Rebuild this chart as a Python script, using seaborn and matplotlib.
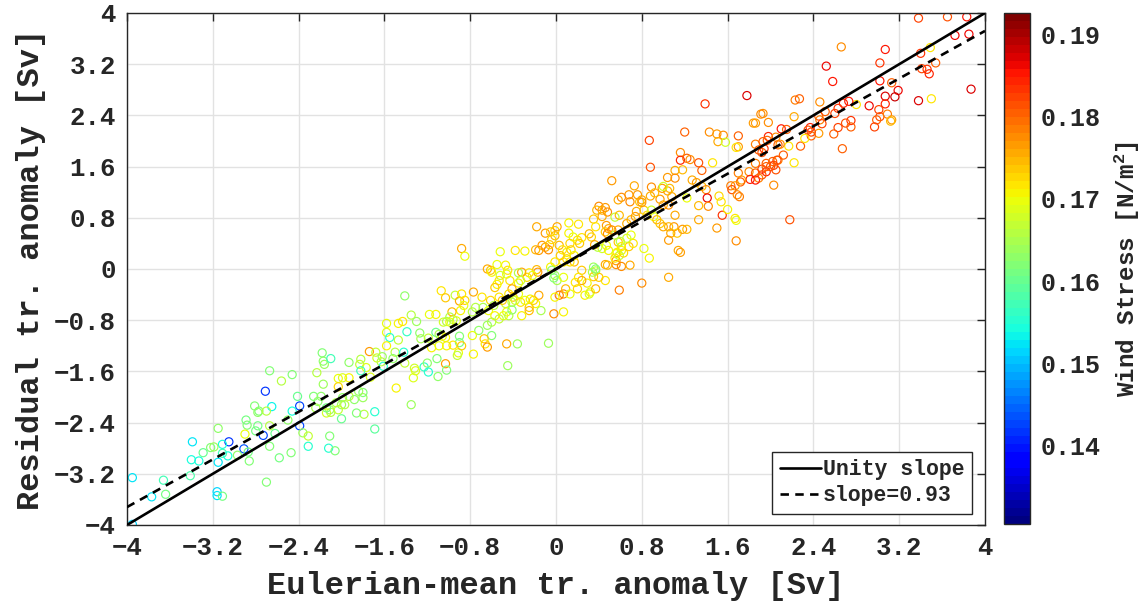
import numpy as np
import pandas as pd
import matplotlib
matplotlib.use("Agg")
import matplotlib.pyplot as plt
import seaborn as sns
from matplotlib.colors import Normalize
from matplotlib.cm import ScalarMappable

# Eulerian-mean transport anomaly [Sv]
euler_tr = [
    -2.67, -2.46, -2.56, -2.71, -2.41, -2.39, -2.81, -2.65, -2.77, -2.78, -2.70, -2.46, -2.39,
    -2.89, -2.88, -2.50, -2.67, -2.78, -2.80, -2.90, -2.73, -2.62, -3.15, -3.39, -3.05, -3.11,
    -3.22, -3.19, -2.91, -3.29, -3.11, -3.06, -2.97, -2.87, -2.67, -2.86, -2.58, -2.47, -3.40,
    -3.33, -3.15, -3.41, -2.70, -3.95, -3.66, -3.77, -3.64, -3.16, -3.16, -3.11, -3.95,
    -1.41, -1.07, -1.03, -0.94, -0.90, -1.35, -1.18, -1.12, -1.30, -1.58, -1.47, -1.43, -1.39,
    -1.58, -1.55, -1.47, -1.27, -1.26, -1.19, -1.12, -1.09, -1.05, -1.02, -0.99, -0.96, -0.93,
    -1.06, -1.03, -0.90, -0.90, -1.16, -1.09, -1.02, -0.96, -0.91, -1.58, -1.50, -1.42, -1.74,
    -1.68, -1.67, -1.62, -1.63, -1.61, -1.52, -1.41, -1.32, -1.31, -1.23, -1.20, -1.19, -1.11,
    -1.03, -1.02, -1.10, -1.33, -1.49, -1.35, -1.82, -1.83, -1.77, -1.93, -1.82, -1.73, -2.03,
    -1.99, -1.93, -2.03, -2.17, -2.23, -2.18, -2.17, -2.16, -2.10, -1.93, -1.88, -1.80, -1.80,
    -1.84, -1.99, -2.00, -2.05, -1.97, -2.11, -2.14, -2.10, -2.00, -2.03, -2.26, -2.19, -2.22,
    -2.24, -2.14, -2.36, -2.31, -2.11, -2.31, -2.12, -2.06, -1.79, -1.69, -1.69, -1.86,
    0.40, 0.43, 0.46, 0.38, 0.48, 0.55, 0.59, 0.35, 0.37, 0.47, 0.49, 0.46, 0.48, 0.12, 0.21,
    -0.18, -0.10, -0.05, -0.01, 0.01, -0.01, -0.04, -0.13, -0.10, -0.07, -0.06, -0.19, -0.16,
    -0.38, -0.29, -0.52, -0.88, -0.85, 0.12, 0.16, 0.13, 0.03, 0.06, 0.10, 0.14, 0.20, 0.22,
    0.24, 0.31, 0.33, 0.36, 0.39, 0.43, 0.47, 0.49, 0.57, 0.56, 0.56, 0.61, 0.58, 0.46, 0.37,
    0.35, 0.59, 0.46, 0.29, 0.32, 0.24, 0.21, 0.24, 0.18, 0.20, 0.17, 0.13, 0.17, 0.07, 0.04,
    0.10, -0.01, -0.05, -0.04, -0.01, 0.01, -0.02, 0.07, 0.07, 0.03, -0.01, -0.02, 0.07, -0.07,
    -0.14, -0.19, -0.16, -0.25, -0.25, -0.32, -0.29, -0.24, -0.21, -0.18, -0.17, -0.25, -0.22,
    -0.27, -0.32, -0.35, -0.43, -0.35, -0.33, -0.46, -0.45, -0.47, -0.55, -0.61, -0.64, -0.60,
    -0.52, -0.53, -0.55, -0.57, -0.41, -0.44, -0.40, -0.35, -0.38, -0.33, -0.41, -0.47, -0.46,
    -0.44, -0.49, -0.41, -0.50, -0.53, -0.77, -0.69, -0.85, -0.88, -0.75, -0.68, -0.78, -0.86,
    -0.89, -0.97, -0.99, -0.61, -0.58, -0.63, -0.57, -0.53, -0.60, -0.72, -0.78, -0.64, -0.60,
    -0.67, -0.66, -0.64, -0.46, -0.36, -0.88, -0.92, -0.77, -0.45, 0.09, 0.13, 0.27, 0.31, 0.37,
    0.40, 0.35, 0.37, 0.34, 0.48, 0.56, 0.59,
    0.87, 1.20, 1.43, 1.50, 1.56, 1.51, 1.58, 1.70, 1.70, 1.68, 1.86, 1.98, 1.86, 1.89, 1.92,
    1.98, 1.97, 2.05, 2.07, 1.16, 1.16, 1.22, 1.25, 1.33, 1.36, 1.46, 0.88, 1.11, 1.18, 1.11,
    1.04, 1.86, 1.80, 1.86, 1.89, 1.92, 1.96, 1.96, 2.00, 2.02, 2.07, 2.05, 1.81, 1.86, 2.03,
    1.70, 1.73, 1.72, 1.67, 1.63, 1.64, 1.69, 1.71, 0.52, 0.73, 0.68, 0.61, 0.58, 0.69, 0.78,
    0.76, 0.80, 0.89, 0.99, 1.04, 1.06, 0.97, 1.00, 1.05, 1.08, 1.00, 1.22, 1.27, 1.31, 1.36,
    1.40, 1.41, 1.52, 1.54, 1.33, 1.42, 1.55, 1.60, 1.67, 1.68, 1.33, 1.50, 1.68, 1.11, 1.10,
    1.05, 1.13, 1.18, 1.22, 1.07, 1.14, 1.16, 1.05, 0.80, 0.87, 0.82, 0.61, 0.69, 0.55, 0.63,
    0.68, 0.72, 0.61, 0.55, 0.60, 0.66, 0.70, 0.52, 0.58, 0.66, 0.70, 0.74, 0.75, 0.82, 0.85,
    0.89, 0.91, 0.94, 0.97, 1.00, 0.43, 0.80, 0.88, 0.92,
    2.66, 3.07, 3.02, 2.52, 2.58, 3.40, 3.49, 3.54, 3.46, 3.41, 3.48, 3.02, 3.13, 3.19, 3.16,
    3.38, 3.50, 3.07, 3.07, 3.01, 3.02, 2.99, 3.09, 3.13, 2.97, 2.92, 2.80, 2.73, 2.68, 2.63,
    2.60, 2.75, 2.75, 2.70, 2.63, 2.59, 2.67, 2.46, 2.51, 2.45, 2.46, 2.48, 2.45, 2.37, 2.38,
    2.38, 2.35, 2.28, 2.32, 2.17, 2.23, 2.27, 2.22, 2.10, 2.15, 1.93, 1.93, 1.94, 2.09, 2.12,
    2.06, 2.03, 1.96, 1.92, 2.22,
    3.38, 3.65, 3.83, 3.72, 3.85, 3.87, 3.12, 1.39, 1.78, 1.91, 1.84, 2.18, 1.05,
]

# Residual transport anomaly [Sv]
resid_tr = [
    -1.59, -1.65, -1.75, -1.91, -1.99, -2.14, -2.14, -2.15, -2.22, -2.24, -2.22, -2.22, -2.45,
    -2.36, -2.44, -2.36, -2.45, -2.45, -2.53, -2.58, -2.60, -2.57, -2.49, -2.70, -2.70, -2.74,
    -2.79, -2.78, -2.81, -2.87, -2.88, -2.92, -2.91, -2.86, -2.77, -3.00, -2.95, -2.87, -2.98,
    -3.00, -3.02, -3.23, -3.33, -3.26, -3.30, -3.56, -3.52, -3.48, -3.54, -3.55, -3.99,
    -0.42, -0.34, -0.45, -0.41, -0.50, -0.72, -0.71, -0.71, -0.82, -0.85, -0.85, -0.82, -0.98,
    -0.99, -1.07, -1.11, -1.00, -1.09, -1.08, -0.99, -1.02, -0.83, -0.82, -0.83, -0.79, -0.81,
    -1.05, -1.07, -1.05, -1.15, -1.23, -1.20, -1.20, -1.19, -1.31, -1.20, -1.30, -1.30, -1.29,
    -1.30, -1.39, -1.37, -1.45, -1.52, -1.40, -1.47, -1.55, -1.59, -1.53, -1.47, -1.61, -1.40,
    -1.48, -1.58, -1.68, -1.70, -1.86, -2.12, -1.41, -1.49, -1.54, -1.46, -1.59, -1.69, -1.71,
    -1.70, -1.70, -1.84, -1.80, -1.62, -1.31, -1.44, -1.49, -1.40, -1.99, -2.04, -2.01, -1.93,
    -1.91, -2.01, -2.12, -2.09, -2.12, -2.20, -2.25, -2.24, -2.34, -2.20, -1.99, -1.99, -2.07,
    -2.17, -2.17, -2.56, -2.61, -2.61, -2.77, -2.80, -2.84, -2.27, -2.23, -2.50, -2.25,
    0.98, 0.92, 0.96, 0.92, 0.89, 0.81, 0.84, 0.78, 0.66, 0.68, 0.63, 0.58, 0.55, 0.72, 0.70,
    0.66, 0.56, 0.58, 0.60, 0.66, 0.52, 0.46, 0.37, 0.34, 0.30, 0.38, 0.30, 0.29,
    0.29, 0.28, 0.27, 0.32, 0.20, 0.56, 0.50, 0.40, 0.37, 0.30, 0.26, 0.30, 0.45, 0.40,
    0.49, 0.55, 0.50, 0.38, 0.34, 0.32, 0.37, 0.29, 0.26, 0.13, 0.07, 0.29, 0.42, 0.07, -0.03,
    -0.12, -0.33, -0.18, -0.22, -0.36, -0.02, -0.13, -0.18, -0.21, -0.31, 0.11, 0.11, 0.21, 0.11, 0.21,
    0.16, 0.11, 0.03, -0.02, -0.10, -0.18, -0.14, -0.13, -0.39, -0.41, -0.44, -0.70, -0.67, -1.16,
    -0.65, -0.54, -0.41, -0.60, -0.65, -0.73, -0.49, -0.47, -0.49, -0.01, -0.05, -0.06, -0.10,
    -0.13, -0.05, -0.06, -0.18, -0.22, -0.18, -0.08, -0.02, 0.06, 0.07, -0.02, 0.00, -0.05,
    -0.10, -0.18, -0.24, -0.29, -0.31, -0.39, -0.44, -0.39, -0.49, -0.52, -0.52, -0.54, -0.67,
    -0.73, -0.73, -0.64, -0.49, -0.44, -0.36, -0.44, -0.49, -0.39, -0.60, -0.60, -0.67, -0.57,
    -0.65, -0.67, -0.75, -0.49, -0.57, -0.65, -0.73, -0.78, -0.83, -0.96, -1.04, -0.88, -1.04,
    -1.09, -1.17, -1.22, -1.17, -1.17, -1.20, -1.35, -1.33, -1.51, -0.31, -0.39, -0.41, -0.39, -0.31,
    -0.13, 0.03, 0.00, -0.05, 0.06, 0.24, 0.21,
    2.01, 2.14, 2.14, 2.11, 2.09, 1.99, 1.98, 2.08, 1.91, 1.90, 2.28, 2.29, 1.95, 1.86, 1.82,
    2.07, 2.01, 2.06, 1.94, 1.82, 1.70, 1.73, 1.71, 1.66, 1.54, 1.66, 1.59, 1.54, 1.55, 1.42,
    1.43, 1.65, 1.52, 1.50, 1.42, 1.56, 1.52, 1.65, 1.60, 1.68, 1.70, 1.55, 1.40, 1.39, 1.31,
    1.50, 1.39, 1.36, 1.30, 1.30, 1.24, 1.16, 1.13, 1.38, 1.30, 1.16, 1.12, 1.08, 1.05, 1.05,
    1.16, 1.08, 1.28, 1.26, 1.22, 1.26, 1.09, 1.00, 1.00, 1.13, 1.29, 1.11, 1.39, 1.35, 1.29,
    1.24, 1.11, 1.14, 1.05, 0.99, 0.98, 0.84, 0.93, 0.79, 0.76, 0.77, 0.64, 0.44, 0.84, 0.66,
    0.66, 0.56, 0.62, 0.62, 0.56, 0.29, 0.26, -0.13, -0.22, 0.17, 0.32, 0.04, 0.06, 0.17, 0.25,
    0.35, 0.40, 0.35, 0.53, 0.43, 0.48, 0.53, 0.61, 0.61, 0.71, 0.77, 0.82, 0.90, 0.92, 0.84,
    0.92, 0.82, 0.77, 0.71, 0.66, 0.82, 1.04, 1.14, 1.19,
    3.47, 3.43, 3.22, 3.17, 2.93, 3.37, 3.46, 3.22, 3.12, 3.13, 3.05, 2.94, 2.91, 2.79, 2.69,
    2.63, 2.66, 2.70, 2.58, 2.49, 2.38, 2.33, 2.42, 2.33, 2.22, 2.55, 2.57, 2.62, 2.59, 2.51,
    2.43, 2.32, 2.22, 2.28, 2.21, 2.11, 1.88, 2.61, 2.46, 2.39, 2.33, 2.27, 2.12, 2.21, 2.14,
    2.08, 2.17, 1.92, 2.04, 1.92, 2.64, 2.66, 2.38, 2.19, 2.18, 2.43, 1.99, 1.88, 1.95, 1.78,
    1.70, 1.62, 1.60, 1.47, 1.66,
    3.92, 3.94, 3.94, 3.65, 3.67, 2.81, 2.31, 2.58, 2.71, 2.42, 2.28, 0.77, 0.45,
]

# Wind stress [N/m^2]
wind_stress = [
    0.162, 0.162, 0.166, 0.142, 0.160, 0.143, 0.162, 0.153, 0.162, 0.163, 0.166, 0.154, 0.143,
    0.161, 0.162, 0.163, 0.166, 0.161, 0.161, 0.170, 0.143, 0.160, 0.163, 0.152, 0.142, 0.154,
    0.162, 0.164, 0.144, 0.160, 0.157, 0.154, 0.163, 0.161, 0.162, 0.162, 0.161, 0.162, 0.154,
    0.154, 0.152, 0.158, 0.162, 0.152, 0.157, 0.152, 0.161, 0.151, 0.152, 0.161, 0.151,
    0.163, 0.172, 0.174, 0.167, 0.176, 0.166, 0.170, 0.171, 0.164, 0.170, 0.171, 0.172, 0.156,
    0.170, 0.155, 0.167, 0.163, 0.165, 0.167, 0.160, 0.165, 0.168, 0.166, 0.170, 0.167, 0.169,
    0.170, 0.171, 0.162, 0.161, 0.171, 0.170, 0.171, 0.172, 0.170, 0.171, 0.166, 0.155, 0.177,
    0.167, 0.168, 0.164, 0.166, 0.155, 0.163, 0.167, 0.168, 0.169, 0.156, 0.163, 0.155, 0.162,
    0.177, 0.162, 0.163, 0.169, 0.171, 0.164, 0.166, 0.167, 0.169, 0.163, 0.157, 0.169, 0.170,
    0.169, 0.171, 0.173, 0.164, 0.166, 0.162, 0.163, 0.164, 0.157, 0.167, 0.163, 0.164, 0.162,
    0.164, 0.163, 0.164, 0.165, 0.166, 0.164, 0.168, 0.166, 0.160, 0.167, 0.162, 0.163, 0.163,
    0.165, 0.161, 0.164, 0.167, 0.162, 0.155, 0.155, 0.162, 0.166, 0.155, 0.159, 0.162,
    0.178, 0.176, 0.177, 0.175, 0.178, 0.167, 0.175, 0.174, 0.172, 0.177, 0.176, 0.174, 0.178,
    0.171, 0.172, 0.176, 0.177, 0.174, 0.173, 0.176, 0.175, 0.173, 0.177, 0.176, 0.178, 0.174,
    0.175, 0.177, 0.172, 0.171, 0.170, 0.176, 0.170, 0.171, 0.170, 0.173, 0.175, 0.172, 0.171,
    0.173, 0.172, 0.174, 0.172, 0.175, 0.173, 0.176, 0.166, 0.168, 0.170, 0.171, 0.172, 0.177,
    0.178, 0.171, 0.174, 0.176, 0.167, 0.174, 0.179, 0.172, 0.171, 0.170, 0.174, 0.172, 0.176,
    0.172, 0.173, 0.175, 0.172, 0.171, 0.172, 0.174, 0.173, 0.172, 0.171, 0.163, 0.164, 0.165,
    0.162, 0.170, 0.178, 0.179, 0.171, 0.178, 0.171, 0.164, 0.165, 0.171, 0.176, 0.174, 0.175,
    0.171, 0.170, 0.171, 0.173, 0.175, 0.177, 0.172, 0.170, 0.173, 0.176, 0.166, 0.172, 0.171,
    0.168, 0.170, 0.172, 0.171, 0.170, 0.174, 0.176, 0.171, 0.168, 0.172, 0.171, 0.174, 0.176,
    0.172, 0.174, 0.170, 0.168, 0.172, 0.166, 0.167, 0.170, 0.166, 0.170, 0.163, 0.174, 0.172,
    0.176, 0.172, 0.173, 0.172, 0.166, 0.165, 0.166, 0.170, 0.171, 0.175, 0.166, 0.173, 0.166,
    0.170, 0.171, 0.167, 0.166, 0.163, 0.170, 0.164, 0.162, 0.174, 0.172, 0.177, 0.176, 0.164,
    0.174, 0.167, 0.171, 0.164, 0.175, 0.170, 0.171, 0.169, 0.175, 0.174, 0.164, 0.162, 0.165,
    0.175, 0.170, 0.167,
    0.182, 0.180, 0.178, 0.177, 0.178, 0.176, 0.168, 0.180, 0.177, 0.172, 0.177, 0.178, 0.179,
    0.180, 0.181, 0.184, 0.180, 0.178, 0.180, 0.178, 0.184, 0.180, 0.178, 0.181, 0.180, 0.172,
    0.181, 0.176, 0.175, 0.178, 0.177, 0.179, 0.178, 0.180, 0.179, 0.182, 0.184, 0.180, 0.181,
    0.180, 0.179, 0.181, 0.184, 0.185, 0.178, 0.179, 0.177, 0.180, 0.177, 0.179, 0.181, 0.178,
    0.179, 0.177, 0.176, 0.177, 0.178, 0.176, 0.178, 0.174, 0.177, 0.176, 0.178, 0.177, 0.176,
    0.175, 0.177, 0.176, 0.178, 0.176, 0.168, 0.170, 0.176, 0.177, 0.175, 0.178, 0.186, 0.173,
    0.172, 0.175, 0.178, 0.183, 0.171, 0.172, 0.170, 0.176, 0.177, 0.178, 0.176, 0.177, 0.175,
    0.174, 0.177, 0.175, 0.176, 0.176, 0.177, 0.176, 0.178, 0.171, 0.170, 0.178, 0.176, 0.172,
    0.173, 0.174, 0.172, 0.171, 0.165, 0.166, 0.168, 0.170, 0.178, 0.176, 0.176, 0.175, 0.177,
    0.176, 0.174, 0.173, 0.168, 0.170, 0.175, 0.174, 0.176, 0.176, 0.177, 0.176, 0.175,
    0.178, 0.185, 0.183, 0.186, 0.185, 0.183, 0.172, 0.180, 0.183, 0.182, 0.184, 0.185, 0.180,
    0.186, 0.188, 0.187, 0.172, 0.187, 0.184, 0.182, 0.181, 0.180, 0.179, 0.177, 0.182, 0.186,
    0.172, 0.185, 0.184, 0.183, 0.182, 0.183, 0.180, 0.181, 0.182, 0.180, 0.180, 0.178, 0.180,
    0.181, 0.179, 0.182, 0.177, 0.184, 0.182, 0.180, 0.181, 0.180, 0.172, 0.172, 0.179, 0.180,
    0.176, 0.185, 0.180, 0.178, 0.180, 0.183, 0.178, 0.180, 0.181, 0.182, 0.180, 0.181, 0.172,
    0.182, 0.181, 0.185, 0.186, 0.186, 0.187, 0.175, 0.183, 0.187, 0.178, 0.177, 0.181, 0.177,
]

# Axis ticks and the fitted regression slope
axis_ticks = [-4, -3.2, -2.4, -1.6, -0.8, 0, 0.8, 1.6, 2.4, 3.2, 4]
axis_tick_labels = ["\u22124", "\u22123.2", "\u22122.4", "\u22121.6", "\u22120.8", "0",
                    "0.8", "1.6", "2.4", "3.2", "4"]
cbar_ticks = [0.14, 0.15, 0.16, 0.17, 0.18, 0.19]
cbar_tick_labels = ["0.14", "0.15", "0.16", "0.17", "0.18", "0.19"]
fit_slope = 0.93
fit_intercept = 0.0
stress_limits = (0.1305, 0.1926)

sns.set_style("white")
FONT = ["Liberation Mono", "DejaVu Sans"]
plt.rcParams["font.family"] = FONT
plt.rcParams["font.weight"] = "bold"
plt.rcParams["mathtext.fontset"] = "custom"
plt.rcParams["mathtext.rm"] = "Liberation Mono:bold"
plt.rcParams["mathtext.it"] = "Liberation Mono:bold"
plt.rcParams["mathtext.bf"] = "Liberation Mono:bold"

W, H = 1143, 607
fig = plt.figure(figsize=(W / 100, H / 100), dpi=100)
ax = fig.add_axes([127 / W, 1 - 525 / H, (985 - 127) / W, (525 - 13) / H])
cax = fig.add_axes([1004 / W, 1 - 524 / H, 26 / W, (524 - 13) / H])

cmap = plt.get_cmap("jet", 64)
norm = Normalize(*stress_limits)

df = pd.DataFrame({"euler": euler_tr, "resid": resid_tr, "tau": wind_stress})
sns.scatterplot(data=df, x="euler", y="resid", hue="tau", palette=cmap, hue_norm=norm,
                legend=False, s=34, linewidth=0.85, ax=ax, zorder=2)
pts = ax.collections[0]
pts.set_edgecolors(pts.get_facecolors())
pts.set_facecolors("none")

line_x = np.array([-4.0, 4.0])
ax.plot(line_x, line_x, color="black", lw=1.9, zorder=3, label="Unity slope")
ax.plot(line_x, fit_slope * line_x + fit_intercept, color="black", lw=1.9, zorder=3,
        linestyle=(0, (3.2, 2.4)), label=f"slope={fit_slope:.2f}")

ax.set_xlim(-4, 4)
ax.set_ylim(-4, 4)
ax.set_xticks(axis_ticks, axis_tick_labels)
ax.set_yticks(axis_ticks, axis_tick_labels)
ax.tick_params(direction="in", top=True, right=True, length=6, width=1, labelsize=18.5,
               pad=8, colors="#262626")
for lab in ax.get_xticklabels() + ax.get_yticklabels():
    lab.set_fontweight("bold")
ax.grid(True, color="#e2e2e2", lw=1)
ax.set_axisbelow(True)
for sp in ax.spines.values():
    sp.set_color("#262626")
    sp.set_linewidth(1)

ax.set_xlabel("Eulerian-mean tr. anomaly [Sv]", fontsize=23, fontweight="bold",
              color="#262626", labelpad=8)
ax.set_ylabel("Residual tr. anomaly [Sv]", fontsize=23, fontweight="bold",
              color="#262626", labelpad=6)

leg = ax.legend(loc="lower right", bbox_to_anchor=(972 / W, 1 - 514 / H),
                bbox_transform=fig.transFigure, borderaxespad=0, frameon=True,
                fancybox=False, framealpha=1, edgecolor="#262626", handlelength=1.9,
                handletextpad=0.1, borderpad=0.35, labelspacing=0.25,
                prop={"family": FONT, "weight": "bold", "size": 15.5})
leg.get_frame().set_linewidth(1)

sm = ScalarMappable(norm=norm, cmap=cmap)
cbar = fig.colorbar(sm, cax=cax)
cbar.set_ticks(cbar_ticks, labels=cbar_tick_labels)
cbar.ax.tick_params(direction="in", length=5, width=1, labelsize=18, pad=8, colors="#262626")
for lab in cbar.ax.get_yticklabels():
    lab.set_fontweight("bold")
cbar.outline.set_linewidth(1)
cbar.outline.set_edgecolor("#262626")
cbar.set_label("Wind Stress [N/m$^2$]", fontsize=17.5, fontweight="bold", color="#262626",
               labelpad=8)

fig.savefig("out.png", dpi=100, facecolor="white")
